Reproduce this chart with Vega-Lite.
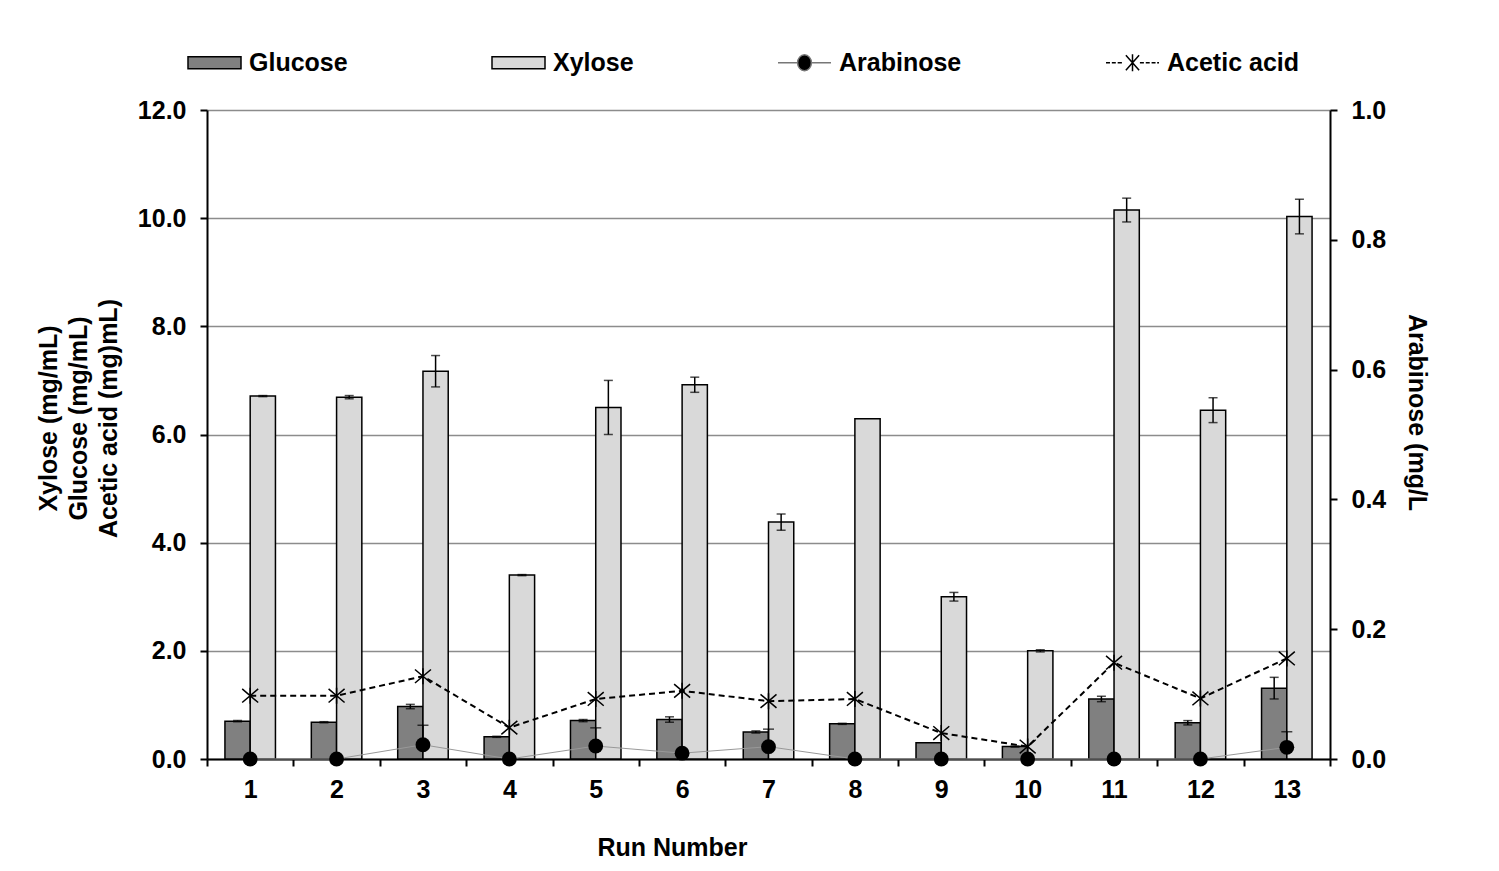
{
  "$schema": "https://vega.github.io/schema/vega-lite/v6.json",
  "width": 1123,
  "height": 649,
  "autosize": "none",
  "padding": {"left": 207, "top": 110, "right": 169, "bottom": 112},
  "background": "white",
  "config": {
    "view": {"stroke": null},
    "font": "Liberation Sans",
    "axis": {
      "labelFont": "Liberation Sans", "labelFontWeight": "bold", "labelFontSize": 25, "labelColor": "black",
      "titleFont": "Liberation Sans", "titleFontWeight": "bold", "titleFontSize": 25, "titleColor": "black",
      "domainColor": "black", "domainWidth": 2, "tickColor": "black", "tickWidth": 2, "tickSize": 7
    }
  },
  "datasets": {
    "main": [
      {"run": 1, "series": "Glucose", "value": 0.70, "lo": 0.69, "hi": 0.71},
      {"run": 2, "series": "Glucose", "value": 0.68, "lo": 0.67, "hi": 0.69},
      {"run": 3, "series": "Glucose", "value": 0.97, "lo": 0.93, "hi": 1.01},
      {"run": 4, "series": "Glucose", "value": 0.41, "lo": 0.40, "hi": 0.42},
      {"run": 5, "series": "Glucose", "value": 0.71, "lo": 0.69, "hi": 0.73},
      {"run": 6, "series": "Glucose", "value": 0.73, "lo": 0.68, "hi": 0.78},
      {"run": 7, "series": "Glucose", "value": 0.50, "lo": 0.48, "hi": 0.52},
      {"run": 8, "series": "Glucose", "value": 0.65, "lo": 0.64, "hi": 0.66},
      {"run": 9, "series": "Glucose", "value": 0.30, "lo": 0.30, "hi": 0.30},
      {"run": 10, "series": "Glucose", "value": 0.23, "lo": 0.22, "hi": 0.24},
      {"run": 11, "series": "Glucose", "value": 1.11, "lo": 1.06, "hi": 1.16},
      {"run": 12, "series": "Glucose", "value": 0.67, "lo": 0.63, "hi": 0.71},
      {"run": 13, "series": "Glucose", "value": 1.31, "lo": 1.11, "hi": 1.51},
      {"run": 1, "series": "Xylose", "value": 6.71, "lo": 6.70, "hi": 6.72},
      {"run": 2, "series": "Xylose", "value": 6.69, "lo": 6.66, "hi": 6.72},
      {"run": 3, "series": "Xylose", "value": 7.17, "lo": 6.88, "hi": 7.46},
      {"run": 4, "series": "Xylose", "value": 3.40, "lo": 3.39, "hi": 3.41},
      {"run": 5, "series": "Xylose", "value": 6.50, "lo": 6.00, "hi": 7.00},
      {"run": 6, "series": "Xylose", "value": 6.92, "lo": 6.78, "hi": 7.06},
      {"run": 7, "series": "Xylose", "value": 4.38, "lo": 4.23, "hi": 4.53},
      {"run": 8, "series": "Xylose", "value": 6.29, "lo": 6.29, "hi": 6.29},
      {"run": 9, "series": "Xylose", "value": 3.00, "lo": 2.92, "hi": 3.08},
      {"run": 10, "series": "Xylose", "value": 2.00, "lo": 1.98, "hi": 2.02},
      {"run": 11, "series": "Xylose", "value": 10.15, "lo": 9.93, "hi": 10.37},
      {"run": 12, "series": "Xylose", "value": 6.45, "lo": 6.22, "hi": 6.68},
      {"run": 13, "series": "Xylose", "value": 10.03, "lo": 9.71, "hi": 10.35},
      {"run": 1, "series": "Arabinose", "value": 0, "lo": 0, "hi": 0},
      {"run": 2, "series": "Arabinose", "value": 0, "lo": 0, "hi": 0},
      {"run": 3, "series": "Arabinose", "value": 0.022, "lo": 0.022, "hi": 0.052},
      {"run": 4, "series": "Arabinose", "value": 0, "lo": 0, "hi": 0},
      {"run": 5, "series": "Arabinose", "value": 0.020, "lo": 0.020, "hi": 0.048},
      {"run": 6, "series": "Arabinose", "value": 0.009, "lo": 0.009, "hi": 0.009},
      {"run": 7, "series": "Arabinose", "value": 0.019, "lo": 0.019, "hi": 0.046},
      {"run": 8, "series": "Arabinose", "value": 0, "lo": 0, "hi": 0},
      {"run": 9, "series": "Arabinose", "value": 0, "lo": 0, "hi": 0},
      {"run": 10, "series": "Arabinose", "value": 0, "lo": 0, "hi": 0},
      {"run": 11, "series": "Arabinose", "value": 0, "lo": 0, "hi": 0},
      {"run": 12, "series": "Arabinose", "value": 0, "lo": 0, "hi": 0},
      {"run": 13, "series": "Arabinose", "value": 0.018, "lo": 0.018, "hi": 0.042},
      {"run": 1, "series": "Acetic acid", "value": 1.17, "lo": 1.17, "hi": 1.17},
      {"run": 2, "series": "Acetic acid", "value": 1.17, "lo": 1.17, "hi": 1.17},
      {"run": 3, "series": "Acetic acid", "value": 1.53, "lo": 1.53, "hi": 1.53},
      {"run": 4, "series": "Acetic acid", "value": 0.58, "lo": 0.58, "hi": 0.58},
      {"run": 5, "series": "Acetic acid", "value": 1.11, "lo": 1.11, "hi": 1.11},
      {"run": 6, "series": "Acetic acid", "value": 1.26, "lo": 1.21, "hi": 1.31},
      {"run": 7, "series": "Acetic acid", "value": 1.07, "lo": 1.07, "hi": 1.07},
      {"run": 8, "series": "Acetic acid", "value": 1.11, "lo": 1.11, "hi": 1.11},
      {"run": 9, "series": "Acetic acid", "value": 0.48, "lo": 0.48, "hi": 0.48},
      {"run": 10, "series": "Acetic acid", "value": 0.23, "lo": 0.18, "hi": 0.28},
      {"run": 11, "series": "Acetic acid", "value": 1.78, "lo": 1.78, "hi": 1.78},
      {"run": 12, "series": "Acetic acid", "value": 1.12, "lo": 1.12, "hi": 1.12},
      {"run": 13, "series": "Acetic acid", "value": 1.86, "lo": 1.86, "hi": 1.86}
    ]
  },
  "data": {"name": "main"},
  "layer": [
    {
      "layer": [
        {
          "transform": [{"filter": "datum.series === 'Glucose'"}],
          "mark": {"type": "bar", "fill": "#808080", "stroke": "black", "strokeWidth": 1.5},
          "encoding": {
            "x": {"field": "run", "type": "ordinal", "scale": {"paddingInner": 0, "paddingOuter": 0},
              "axis": {"title": "Run Number", "labelAngle": 0, "tickBand": "extent", "labelPadding": 11, "titlePadding": 33, "titleX": 465, "grid": false}},
            "xOffset": {"field": "series", "type": "nominal", "scale": {"domain": ["Glucose", "Xylose"], "paddingInner": 0, "paddingOuter": 0.71}},
            "y": {"field": "value", "type": "quantitative", "scale": {"domain": [0, 12], "nice": false},
              "axis": {"title": ["Xylose (mg/mL)", "Glucose (mg/mL)", "Acetic acid (mg)mL)"], "values": [0, 2, 4, 6, 8, 10, 12], "format": ".1f",
                "grid": true, "gridColor": "#8c8c8c", "gridWidth": 1.5, "labelPadding": 14, "titlePadding": 16, "titleLineHeight": 30, "titleY": 308}}
          }
        },
        {
          "transform": [{"filter": "datum.series === 'Xylose'"}],
          "mark": {"type": "bar", "fill": "#d9d9d9", "stroke": "black", "strokeWidth": 1.5},
          "encoding": {
            "x": {"field": "run", "type": "ordinal"},
            "xOffset": {"field": "series", "type": "nominal"},
            "y": {"field": "value", "type": "quantitative"}
          }
        },
        {
          "transform": [{"filter": "(datum.series === 'Glucose' || datum.series === 'Xylose') && datum.hi > datum.lo"}],
          "mark": {"type": "rule", "color": "black", "strokeWidth": 1.5},
          "encoding": {
            "x": {"field": "run", "type": "ordinal"},
            "xOffset": {"field": "series", "type": "nominal"},
            "y": {"field": "lo", "type": "quantitative"},
            "y2": {"field": "hi"}
          }
        },
        {
          "transform": [{"filter": "(datum.series === 'Glucose' || datum.series === 'Xylose') && datum.hi > datum.lo"}],
          "mark": {"type": "tick", "color": "black", "thickness": 1.5, "size": 9},
          "encoding": {
            "x": {"field": "run", "type": "ordinal"},
            "xOffset": {"field": "series", "type": "nominal"},
            "y": {"field": "hi", "type": "quantitative"}
          }
        },
        {
          "transform": [{"filter": "(datum.series === 'Glucose' || datum.series === 'Xylose') && datum.hi > datum.lo"}],
          "mark": {"type": "tick", "color": "black", "thickness": 1.5, "size": 9},
          "encoding": {
            "x": {"field": "run", "type": "ordinal"},
            "xOffset": {"field": "series", "type": "nominal"},
            "y": {"field": "lo", "type": "quantitative"}
          }
        },
        {
          "transform": [{"filter": "datum.series === 'Acetic acid'"}],
          "mark": {"type": "line", "color": "black", "strokeWidth": 2, "strokeDash": [6, 4]},
          "encoding": {
            "x": {"field": "run", "type": "ordinal"},
            "y": {"field": "value", "type": "quantitative"}
          }
        },
        {
          "transform": [{"filter": "datum.series === 'Acetic acid' && datum.hi > datum.lo"}],
          "mark": {"type": "rule", "color": "black", "strokeWidth": 1.2},
          "encoding": {
            "x": {"field": "run", "type": "ordinal"},
            "y": {"field": "lo", "type": "quantitative"},
            "y2": {"field": "hi"}
          }
        },
        {
          "transform": [{"filter": "datum.series === 'Acetic acid'"}],
          "mark": {"type": "point", "shape": "M-1,-0.85L1,0.85M-1,0.85L1,-0.85M0,-1V1", "size": 256, "filled": false, "stroke": "black", "strokeWidth": 1.5, "opacity": 1},
          "encoding": {
            "x": {"field": "run", "type": "ordinal"},
            "y": {"field": "value", "type": "quantitative"}
          }
        },
        {
          "transform": [{"filter": "datum.run === 1"}],
          "mark": {"type": "point", "filled": true, "opacity": 0},
          "encoding": {
            "x": {"field": "run", "type": "ordinal"},
            "y": {"field": "value", "type": "quantitative"},
            "shape": {"field": "series", "type": "nominal",
              "scale": {"domain": ["Glucose", "Xylose", "Arabinose", "Acetic acid"],
                "range": ["M-1,-0.23H1V0.23H-1Z", "M-1,-0.23H1V0.23H-1Z", "M-1,0H-0.26M0.26,0H1M-0.26,0A0.26,0.3 0 1,0 0.26,0A0.26,0.3 0 1,0 -0.26,0Z", "M-1,0H-0.85M-0.78,0H-0.63M-0.56,0H-0.4M0.28,0H0.43M0.5,0H0.65M0.72,0H0.87M0.93,0H1M-0.25,-0.28L0.25,0.28M-0.25,0.28L0.25,-0.28M0,-0.32V0.32"]},
              "legend": {"orient": "none", "legendX": -20, "legendY": -75, "direction": "horizontal", "title": null, "columnPadding": 141, "symbolSize": 2809, "symbolStrokeWidth": 1.5, "labelFontSize": 25, "labelFont": "Liberation Sans", "labelFontWeight": "bold", "labelColor": "black", "labelOffset": 7, "symbolOpacity": 1}},
            "fill": {"field": "series", "type": "nominal",
              "scale": {"domain": ["Glucose", "Xylose", "Arabinose", "Acetic acid"], "range": ["#808080", "#d9d9d9", "black", "transparent"]},
              "legend": {"orient": "none", "legendX": -20, "legendY": -75, "direction": "horizontal", "title": null, "columnPadding": 141, "symbolSize": 2809, "symbolStrokeWidth": 1.5, "labelFontSize": 25, "labelFont": "Liberation Sans", "labelFontWeight": "bold", "labelColor": "black", "labelOffset": 7, "symbolOpacity": 1}},
            "stroke": {"field": "series", "type": "nominal",
              "scale": {"domain": ["Glucose", "Xylose", "Arabinose", "Acetic acid"], "range": ["black", "black", "#777777", "black"]},
              "legend": {"orient": "none", "legendX": -20, "legendY": -75, "direction": "horizontal", "title": null, "columnPadding": 141, "symbolSize": 2809, "symbolStrokeWidth": 1.5, "labelFontSize": 25, "labelFont": "Liberation Sans", "labelFontWeight": "bold", "labelColor": "black", "labelOffset": 7, "symbolOpacity": 1}}
          }
        }
      ]
    },
    {
      "transform": [{"filter": "datum.series === 'Arabinose'"}],
      "layer": [
        {
          "mark": {"type": "line", "color": "#999999", "strokeWidth": 1},
          "encoding": {
            "x": {"field": "run", "type": "ordinal"},
            "y": {"field": "value", "type": "quantitative", "scale": {"domain": [0, 1], "nice": false},
              "axis": {"orient": "right", "title": "Arabinose (mg/L", "values": [0, 0.2, 0.4, 0.6, 0.8, 1.0], "format": ".1f", "grid": false, "labelPadding": 14, "titlePadding": 18, "titleY": 302}}
          }
        },
        {
          "transform": [{"filter": "datum.hi > datum.lo"}],
          "mark": {"type": "rule", "color": "black", "strokeWidth": 1.5},
          "encoding": {
            "x": {"field": "run", "type": "ordinal"},
            "y": {"field": "lo", "type": "quantitative"},
            "y2": {"field": "hi"}
          }
        },
        {
          "transform": [{"filter": "datum.hi > datum.lo"}],
          "mark": {"type": "tick", "color": "black", "thickness": 1.5, "size": 11},
          "encoding": {
            "x": {"field": "run", "type": "ordinal"},
            "y": {"field": "hi", "type": "quantitative"}
          }
        },
        {
          "mark": {"type": "point", "shape": "circle", "filled": true, "color": "black", "size": 220, "opacity": 1},
          "encoding": {
            "x": {"field": "run", "type": "ordinal"},
            "y": {"field": "value", "type": "quantitative"}
          }
        }
      ]
    }
  ],
  "resolve": {"scale": {"y": "independent"}, "axis": {"y": "independent"}}
}
